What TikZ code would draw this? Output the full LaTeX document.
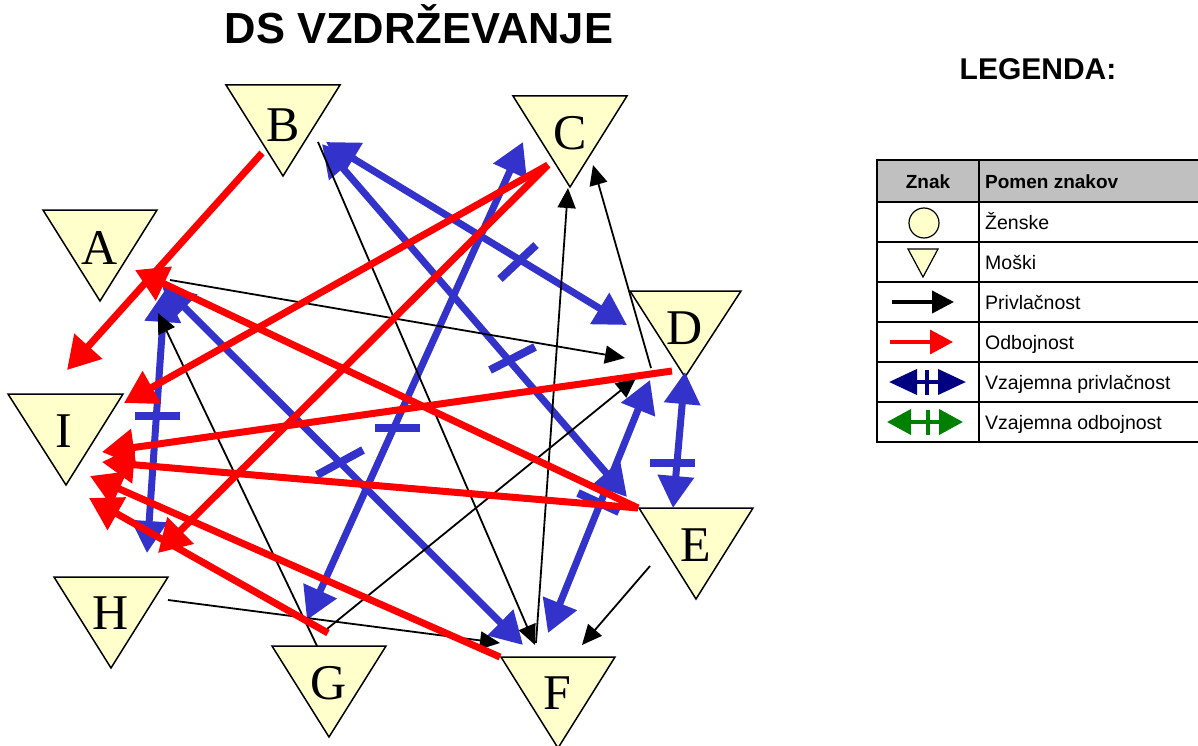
\documentclass[tikz,border=0pt]{standalone}
\usepackage{fontspec}
\setmainfont{Liberation Serif}
\newfontfamily\arialf{Liberation Sans}
\usetikzlibrary{arrows.meta,calc}
\definecolor{tfill}{HTML}{FFFFCC}
\definecolor{mblue}{HTML}{3333CC}
\definecolor{navyc}{HTML}{000080}
\definecolor{greenc}{HTML}{008000}
\definecolor{hgray}{HTML}{C0C0C0}
\begin{document}
\begin{tikzpicture}[x=1pt,y=-1pt,
  tri/.style={draw=black, line width=1.5pt, fill=tfill, line join=miter},
  lbl/.style={font=\fontsize{50}{50}\selectfont, inner sep=0pt},
  rel/.style={red, line width=7pt, -{Triangle[length=32pt,width=36pt]}},
  attr/.style={black, line width=1.8pt, -{Triangle[length=20pt,width=18pt]}},
  mutual/.style={mblue, line width=7pt, {Triangle[length=32pt,width=35pt]}-{Triangle[length=32pt,width=35pt]}},
  barmark/.style={mblue, line width=8pt},
  legtxt/.style={font=\arialf\fontsize{19.5}{19.5}\selectfont, inner sep=0pt, anchor=base west},
  leghead/.style={font=\arialf\bfseries\fontsize{19}{19}\selectfont, inner sep=0pt},
  tline/.style={black, line width=1.5pt},
]
\useasboundingbox (0,0) rectangle (1198,746);

% title
\node[font=\arialf\bfseries\fontsize{43.5}{43.5}\selectfont, inner sep=0pt, anchor=base] (title) at (419,44) {DS VZDRŽEVANJE};

% triangles (men)
\draw[tri] (43,210) -- (157,210) -- (100,301) -- cycle;
\node[lbl] (A) at (100,248) {A};
\draw[tri] (226,85) -- (340,85) -- (283,176) -- cycle;
\node[lbl] (B) at (283,125) {B};
\draw[tri] (513,96) -- (627,96) -- (570,187) -- cycle;
\node[lbl] (C) at (570,133) {C};
\draw[tri] (630,291) -- (741,291) -- (685,377) -- cycle;
\node[lbl] (D) at (685,328) {D};
\draw[tri] (639,508) -- (753,508) -- (696,599) -- cycle;
\node[lbl] (E) at (696,545) {E};
\draw[tri] (501,657) -- (615,657) -- (558,748) -- cycle;
\node[lbl] (F) at (557,693) {F};
\draw[tri] (272,646) -- (386,646) -- (329,737) -- cycle;
\node[lbl] (G) at (329,683) {G};
\draw[tri] (54,577) -- (168,577) -- (111,668) -- cycle;
\node[lbl] (H) at (111,613) {H};
\draw[tri] (8,394) -- (123,394) -- (66,485) -- cycle;
\node[lbl] (I) at (64,431) {I};

% connector end points
\coordinate (BD1) at (326,142); \coordinate (BD2) at (627,325);
\coordinate (BE1) at (322,144); \coordinate (BE2) at (627,497);
\coordinate (AF1) at (162,285); \coordinate (AF2) at (523,645);
\coordinate (AH1) at (165,290); \coordinate (AH2) at (147,553);
\coordinate (CG1) at (523,142); \coordinate (CG2) at (307,620);
\coordinate (DF1) at (650,380); \coordinate (DF2) at (548,633);
\coordinate (DE1) at (685,372); \coordinate (DE2) at (673,508);

\coordinate (AD1) at (170,280); \coordinate (AD2) at (625,358);
\coordinate (BF1) at (318,142); \coordinate (BF2) at (535,645);
\coordinate (FC1) at (536,643); \coordinate (FC2) at (568,188);
\coordinate (DC1) at (651,368); \coordinate (DC2) at (593,165);
\coordinate (GD1) at (322,633); \coordinate (GD2) at (636,378);
\coordinate (GA1) at (317,646); \coordinate (GA2) at (158,313);
\coordinate (HF1) at (168,600); \coordinate (HF2) at (500,643);
\coordinate (EF1) at (650,566); \coordinate (EF2) at (582,645);

\coordinate (BI1) at (262,153); \coordinate (BI2) at (67,370);
\coordinate (CI1) at (548,165); \coordinate (CI2) at (124,403);
\coordinate (CH1) at (548,165); \coordinate (CH2) at (158,553);
\coordinate (EA1) at (638,508); \coordinate (EA2) at (135,270);
\coordinate (EI1) at (638,508); \coordinate (EI2) at (102,462);
\coordinate (DI1) at (672,371); \coordinate (DI2) at (102,452);
\coordinate (FI1) at (500,657); \coordinate (FI2) at (90,476);
\coordinate (GI1) at (328,633); \coordinate (GI2) at (89,498);

% mutual attraction (blue)
\draw[mutual] (BD1) -- (BD2);
\draw[mutual] (BE1) -- (BE2);
\draw[mutual] (AF1) -- (AF2);
\draw[mutual] (AH1) -- (AH2);
\draw[mutual] (CG1) -- (CG2);
\draw[mutual] (DF1) -- (DF2);
\draw[mutual] (DE1) -- (DE2);
\draw[barmark] (500,279) -- (536,245);
\draw[barmark] (490,370) -- (535,347);
\draw[barmark] (317,475) -- (363,450);
\draw[barmark] (135,416) -- (180,416);
\draw[barmark] (375,428) -- (420,428);
\draw[barmark] (578,493) -- (619,512);
\draw[barmark] (650,463) -- (695,463);

% attraction (black)
\draw[attr] (AD1) -- (AD2);
\draw[attr] (BF1) -- (BF2);
\draw[attr] (FC1) -- (FC2);
\draw[attr] (DC1) -- (DC2);
\draw[attr] (GD1) -- (GD2);
\draw[attr] (GA1) -- (GA2);
\draw[attr] (HF1) -- (HF2);
\draw[attr] (EF1) -- (EF2);

% repulsion (red)
\draw[rel] (BI1) -- (BI2);
\draw[rel] (CI1) -- (CI2);
\draw[rel] (CH1) -- (CH2);
\draw[rel] (EA1) -- (EA2);
\draw[rel] (EI1) -- (EI2);
\draw[rel] (DI1) -- (DI2);
\draw[rel] (FI1) -- (FI2);
\draw[rel] (GI1) -- (GI2);

% legend
\node[font=\arialf\bfseries\fontsize{30}{30}\selectfont, inner sep=0pt, anchor=base] (legtitle) at (1038,80) {LEGENDA:};
\fill[hgray] (877,160) rectangle (1200,202);
\foreach \yy in {160,202,242,282,322,362,402,442} \draw[tline] (877,\yy) -- (1200,\yy);
\draw[black, line width=2.5pt] (877,159) -- (877,443);
\draw[tline] (979,160) -- (979,442);
\node[leghead, anchor=base] (hznak) at (928,189) {Znak};
\node[leghead, anchor=base west] (hpomen) at (985,189) {Pomen znakov};
\node[legtxt] (t1) at (985,229) {Ženske};
\node[legtxt] (t2) at (985,269) {Moški};
\node[legtxt] (t3) at (985,309) {Privlačnost};
\node[legtxt] (t4) at (985,349) {Odbojnost};
\node[legtxt] (t5) at (985,389) {Vzajemna privlačnost};
\node[legtxt] (t6) at (985,429) {Vzajemna odbojnost};
\draw[black, line width=1.2pt, fill=tfill] (924,223) circle (15);
\draw[black, line width=1.2pt, fill=tfill] (908,249) -- (938,249) -- (923,277) -- cycle;
\draw[black, line width=4pt, -{Triangle[length=22pt,width=22pt]}] (892,302) -- (954,302);
\draw[red, line width=3.5pt, -{Triangle[length=23pt,width=24pt]}] (890,342) -- (953,342);
\draw[navyc, line width=4pt, {Triangle[length=28pt,width=25pt]}-{Triangle[length=28pt,width=25pt]}] (889,382) -- (966,382);
\draw[navyc, line width=4pt] (927,370) -- (927,395);
\draw[greenc, line width=4pt, {Triangle[length=24pt,width=25pt]}-{Triangle[length=24pt,width=25pt]}] (887,422) -- (963,422);
\draw[greenc, line width=4pt] (928,410) -- (928,435);
\end{tikzpicture}
\end{document}
